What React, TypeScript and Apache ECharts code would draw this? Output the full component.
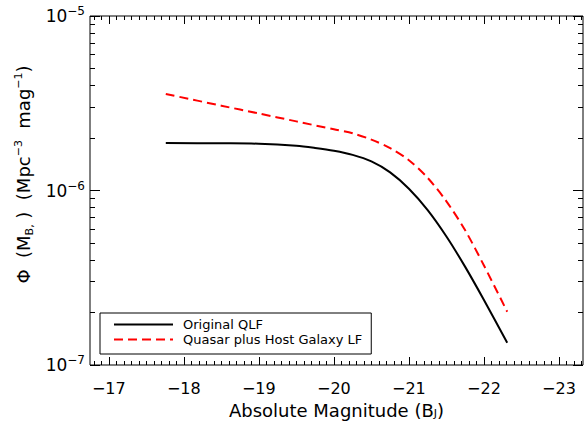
import React, { useEffect, useRef } from "react";
import * as echarts from "echarts";

// Absolute magnitude M_BJ (x) and Phi (y)
const qlfMag = [-17.76, -18.5, -19.0, -19.5, -19.75, -20.0, -20.25, -20.5, -20.75, -21.0, -21.25, -21.5, -21.75, -22.0, -22.31];
const qlfPhi = [1.872e-6, 1.864e-6, 1.854e-6, 1.804e-6, 1.752e-6, 1.688e-6, 1.6e-6, 1.468e-6, 1.271e-6, 1.024e-6, 7.72e-7, 5.45e-7, 3.65e-7, 2.358e-7, 1.342e-7];

const hostMag = [-17.76, -18.5, -19.0, -19.5, -20.0, -20.25, -20.5, -20.75, -21.0, -21.25, -21.5, -21.75, -22.0, -22.31];
const hostPhi = [3.573e-6, 3.062e-6, 2.763e-6, 2.489e-6, 2.242e-6, 2.127e-6, 1.957e-6, 1.75e-6, 1.492e-6, 1.181e-6, 8.67e-7, 5.91e-7, 3.717e-7, 2.02e-7];

const seriesNames = ["Original QLF", "Quasar plus Host Galaxy LF"];

const xMin = -23.32;
const xMax = -16.75;
const yMin = 1e-7;
const yMax = 1e-5;

const xMajorTicks = [-17, -18, -19, -20, -21, -22, -23];
const yMajorTicks = [1e-7, 1e-6, 1e-5];

const FONT = "DejaVu Sans";

const GRID = { left: 90, right: 2, top: 16, bottom: 57 };
const W = 585;
const H = 422;

function buildMinorX(): number[] {
  const out: number[] = [];
  for (let i = -168; i >= -233; i--) {
    if (i % 10 !== 0) out.push(i / 10);
  }
  return out;
}
function buildMinorY(): number[] {
  const out: number[] = [];
  for (const d of [1e-7, 1e-6]) {
    for (let k = 2; k <= 9; k++) out.push(k * d);
  }
  return out;
}
const xMinorTicks = buildMinorX();
const yMinorTicks = buildMinorY();

function buildTickLines(): any[] {
  const gw = W - GRID.left - GRID.right;
  const gh = H - GRID.top - GRID.bottom;
  const decPx = gh / Math.log10(yMax / yMin);
  const magPx = gw / (xMax - xMin);
  const lines: any[] = [];
  const xTick = (v: number, len: number) => {
    const f = Math.pow(10, len / decPx);
    lines.push([{ coord: [v, yMin] }, { coord: [v, yMin * f] }]);
    lines.push([{ coord: [v, yMax] }, { coord: [v, yMax / f] }]);
  };
  const yTick = (v: number, len: number) => {
    const d = len / magPx;
    lines.push([{ coord: [xMax, v] }, { coord: [xMax - d, v] }]);
    lines.push([{ coord: [xMin, v] }, { coord: [xMin + d, v] }]);
  };
  xMajorTicks.forEach((v) => xTick(v, 8));
  xMinorTicks.forEach((v) => xTick(v, 4));
  yMajorTicks.forEach((v) => yTick(v, 10));
  yMinorTicks.forEach((v) => yTick(v, 5));
  return lines;
}

export default function App() {
  const ref = useRef<HTMLDivElement>(null);
  useEffect(() => {
    document.body.style.margin = "0";
    if (!ref.current) return;
    const chart = echarts.init(ref.current, null, { renderer: "svg" });
    const option: any = {
      animation: false,
      backgroundColor: "#fff",
      textStyle: { fontFamily: FONT },
      grid: {
        ...GRID,
        show: true,
        borderColor: "#000",
        borderWidth: 1,
        outerBoundsMode: "none",
        containLabel: false,
      },
      legend: {
        orient: "vertical",
        left: 100,
        top: 313,
        padding: [4, 9, 7, 13],
        itemGap: 0,
        itemWidth: 59,
        itemHeight: 15,
        borderColor: "#000",
        borderWidth: 1,
        backgroundColor: "#fff",
        data: seriesNames,
        itemStyle: { opacity: 0, borderWidth: 0 },
        textStyle: {
          fontFamily: FONT,
          fontSize: 13,
          color: "#000",
          lineHeight: 15,
          padding: [0, 0, 0, 5],
        },
      },
      xAxis: {
        type: "value",
        inverse: true,
        min: xMin,
        max: xMax,
        minInterval: 1,
        maxInterval: 1,
        splitLine: { show: false },
        axisLine: { show: false },
        axisTick: { show: false },
        axisLabel: {
          margin: 15,
          fontFamily: FONT,
          fontSize: 16,
          color: "#000",
          formatter: (v: number) =>
            Math.abs(v - Math.round(v)) < 1e-6 ? "\u2212" + Math.abs(Math.round(v)) : "",
        },
        name: "Absolute Magnitude (B{sub|J})",
        nameLocation: "middle",
        nameGap: 36,
        nameTextStyle: {
          fontFamily: FONT,
          fontSize: 18,
          color: "#000",
          lineHeight: 18,
          rich: {
            sub: { fontFamily: FONT, fontSize: 11, lineHeight: 11, verticalAlign: "bottom", color: "#000" },
          },
        },
      },
      yAxis: {
        type: "log",
        logBase: 10,
        min: yMin,
        max: yMax,
        splitLine: { show: false },
        axisLine: { show: false },
        axisTick: { show: false },
        minorTick: { show: false },
        axisLabel: {
          margin: 5,
          color: "#000",
          formatter: (v: number) => {
            const e = Math.round(Math.log10(v));
            return "{b|10}{s|\u2212" + Math.abs(e) + "}";
          },
          rich: {
            b: { fontFamily: FONT, fontSize: 17, lineHeight: 22, color: "#000" },
            s: { fontFamily: FONT, fontSize: 12, lineHeight: 13, verticalAlign: "top", color: "#000" },
          },
        },
        name: "\u03A6  (M{sub|B,} )  (Mpc{sup|\u22123}  mag{sup|\u22121})",
        nameLocation: "middle",
        nameRotate: 90,
        nameGap: 54,
        nameTextStyle: {
          fontFamily: FONT,
          fontSize: 18,
          color: "#000",
          lineHeight: 22,
          padding: [0, 0, 0, 32],
          rich: {
            sub: { fontFamily: FONT, fontSize: 11, lineHeight: 11, verticalAlign: "bottom", color: "#000" },
            sup: { fontFamily: FONT, fontSize: 11, lineHeight: 11, verticalAlign: "top", color: "#000" },
          },
        },
      },
      series: [
        {
          name: seriesNames[0],
          type: "line",
          data: qlfMag.map((m, i) => [m, qlfPhi[i]]),
          symbol: "none",
          smooth: 0.3,
          lineStyle: { color: "#000", width: 2, type: "solid" },
          itemStyle: { color: "#000" },
          z: 3,
        },
        {
          name: seriesNames[1],
          type: "line",
          data: hostMag.map((m, i) => [m, hostPhi[i]]),
          symbol: "none",
          smooth: 0.3,
          lineStyle: { color: "#ff0000", width: 2, type: [9, 5] },
          itemStyle: { color: "#ff0000" },
          z: 3,
        },
        {
          name: "ticks",
          type: "line",
          data: [],
          symbol: "none",
          silent: true,
          z: 4,
          markLine: {
            silent: true,
            symbol: ["none", "none"],
            label: { show: false },
            emphasis: { disabled: true },
            lineStyle: { color: "#000", width: 1, type: "solid" },
            data: buildTickLines(),
          },
        },
      ],
    };
    chart.setOption(option);
    return () => chart.dispose();
  }, []);
  return <div ref={ref} style={{ width: W, height: H }} />;
}
